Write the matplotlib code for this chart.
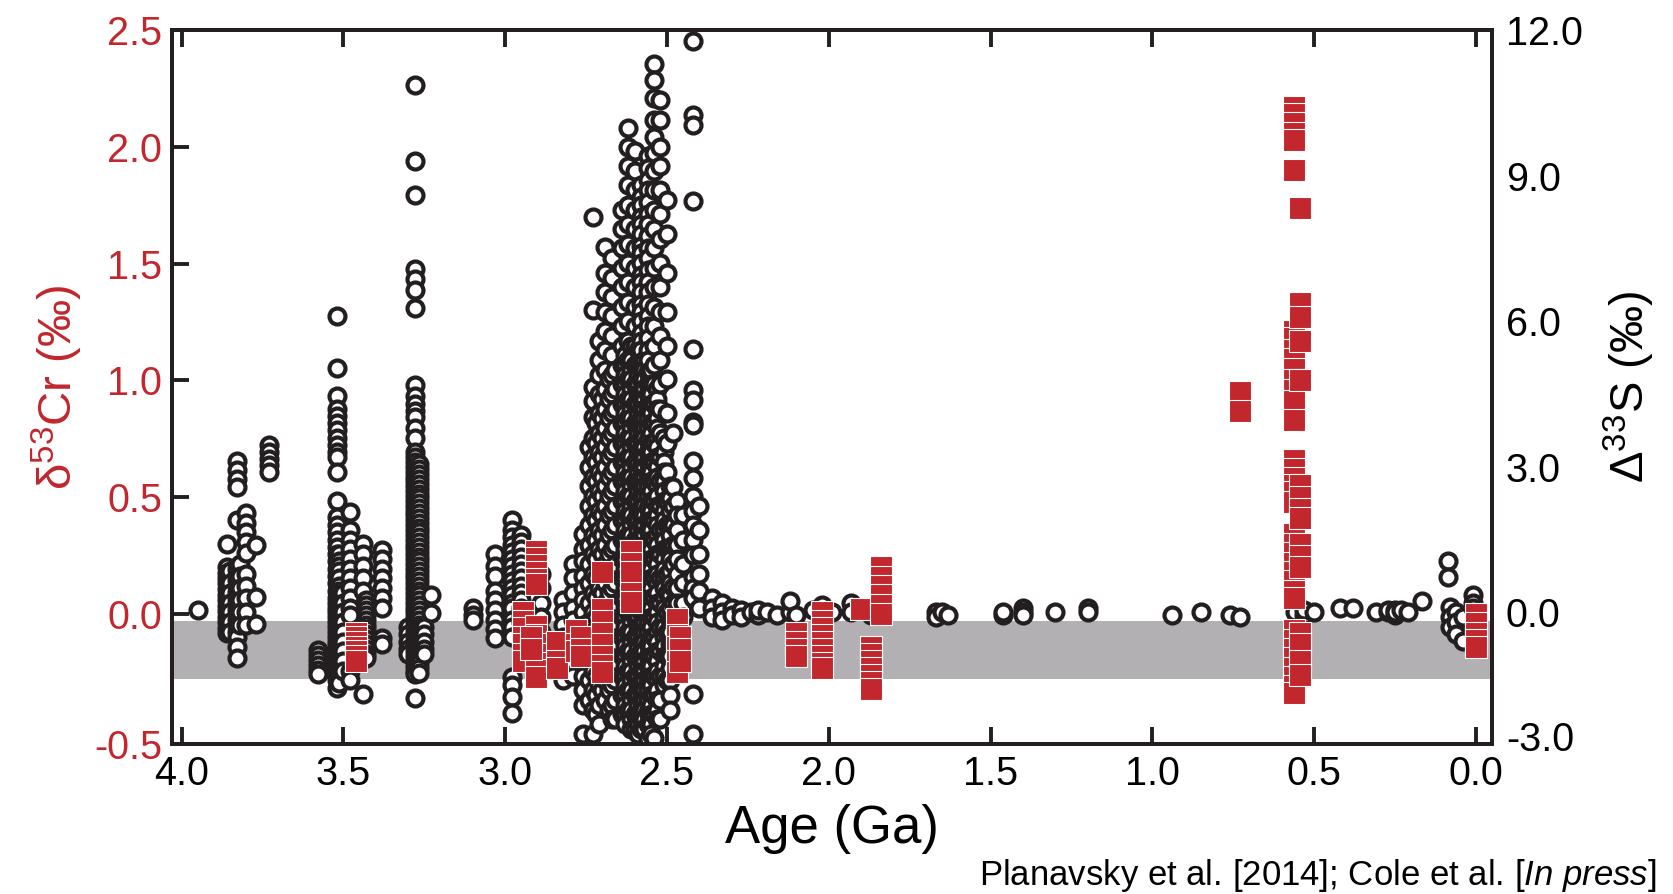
import matplotlib
matplotlib.use('Agg')
import matplotlib.pyplot as plt
from matplotlib.patches import Rectangle
from matplotlib.transforms import blended_transform_factory

plt.rcParams['font.family'] = ['Liberation Sans', 'DejaVu Sans']
plt.rcParams['mathtext.fontset'] = 'custom'
plt.rcParams['mathtext.rm'] = 'Liberation Sans'
plt.rcParams['mathtext.it'] = 'Liberation Sans:italic'
plt.rcParams['axes.unicode_minus'] = False

RED = '#c1272d'
BLACK = '#231f20'
BAND = '#b2b0b3'

# ---------------- data ----------------
# Delta33S (circles, right axis): ages (Ga) and values per sample column
eo_age = [3.95, 3.86, 3.85, 3.83, 3.82, 3.80, 3.77, 3.73]
eo_d33s = [
    [0.06],
    [1.42, 0.93, 0.82, 0.7, 0.6, 0.48, 0.36, 0.25, 0.14, 0.02, -0.1, -0.2, -0.32, -0.43],
    [0.85, 0.6, 0.4, 0.2, 0.0, -0.2, -0.4],
    [3.13, 2.93, 2.76, 2.58, 1.9, 0.9, 0.78, 0.66, 0.55, 0.42, 0.3, 0.2, 0.08, -0.04,
     -0.16, -0.28, -0.4, -0.5, -0.72, -0.93],
    [1.0, 0.75, 0.5, 0.25, 0.0, -0.25],
    [2.04, 1.85, 1.65, 1.45, 1.22, 0.8, 0.55, 0.3, 0.0, -0.25],
    [1.4, 0.31, -0.23],
    [3.44, 3.3, 3.17, 3.03, 2.9],
]

paleo_age = [3.58, 3.52, 3.515, 3.50, 3.48, 3.44, 3.43, 3.38, 3.30, 3.28, 3.265, 3.25,
             3.23, 3.10]
paleo_d33s = [
    [-0.78, -0.88, -0.98, -1.08, -1.18, -1.26],
    [6.1, 5.03, 4.45, 4.2, 4.05, 3.9, 3.75, 3.6, 3.45, 3.3, 3.2, 2.9, 2.3, 1.96, 1.8, 1.65,
     1.5, 1.35, 1.2, 1.05, 0.9, 0.75, 0.6, 0.45, 0.3, 0.2, 0.1, 0.0, -0.1, -0.2, -0.3, -0.4,
     -0.5, -0.6, -0.7, -0.8, -0.9, -1.0, -1.1, -1.2, -1.3, -1.4, -1.55],
    [1.2, 1.05, 0.95, 0.85, 0.7, 0.55, 0.45, 0.35, 0.25, 0.15, 0.05, -0.05, -0.15, -0.25,
     -0.35, -0.45, -0.55, -0.65, -0.75, -0.85, -0.95, -1.05, -1.15, -1.25, -1.35, -1.45],
    [0.4, 0.2, 0.0, -0.2, -0.4, -0.6, -0.8, -1.0, -1.2],
    [2.06, 1.69, 1.5, 1.3, 1.1, 0.9, 0.7, 0.5, 0.3, 0.1, -0.05, -1.2, -1.4],
    [1.42, 1.2, 0.95, 0.7, 0.45, -1.67],
    [0.25, 0.15, 0.05, -0.05, -0.15, -0.25, -0.35, -0.45, -0.55, -0.65, -0.75, -0.85, -0.93],
    [1.28, 1.1, 0.9, 0.7, 0.5, 0.3, 0.1, -0.52, -0.64],
    [-0.3, -0.45, -0.6, -0.75, -0.85],
    [10.86, 9.3, 8.6, 7.07, 6.87, 6.64, 6.27, 4.68, 4.45, 4.3, 4.15, 4.02, 3.81, 3.6, 3.3,
     3.2, 3.1, 3.0, 2.9, 2.8, 2.7, 2.6, 2.5, 2.4, 2.3, 2.2, 2.1, 2.0, 1.9, 1.8, 1.7, 1.6,
     1.5, 1.4, 1.3, 1.2, 1.1, 1.0, 0.9, 0.8, 0.7, 0.6, 0.5, 0.4, 0.3, 0.2, 0.1, 0.0, -0.1,
     -0.2, -0.3, -0.4, -0.5, -0.6, -0.7, -0.8, -0.9, -1.0, -1.1, -1.2, -1.26, -1.77],
    [3.05, 2.95, 2.85, 2.75, 2.65, 2.55, 2.45, 2.35, 2.25, 2.15, 2.05, 1.95, 1.85, 1.75,
     1.65, 1.55, 1.45, 1.35, 1.25, 1.15, 1.05, 0.95, 0.85, 0.75, 0.65, 0.55, 0.45, 0.35,
     0.25, 0.15, 0.05, -0.05, -0.15, -0.25, -0.35, -0.45, -0.55, -0.65, -0.75, -0.85,
     -0.95, -1.05, -1.15, -1.25],
    [-0.3, -0.45, -0.6, -0.75, -0.85],
    [0.35, -0.02],
    [0.1, -0.05, -0.15],
]

meso_age = [3.03, 2.98, 2.95, 2.89]
meso_d33s = [
    [1.2, 0.95, 0.75, 0.45, 0.25, 0.05, -0.15, -0.35, -0.52],
    [1.9, 1.69, 1.55, 1.4, 1.25, 1.1, 0.95, 0.8, 0.65, 0.5, 0.35, 0.2, 0.1, -0.16, -0.3,
     -0.5, -1.34, -1.5, -1.75, -2.08],
    [1.6, 1.45, 1.3, 1.15, 1.0, 0.85, 0.7, 0.55, 0.4, 0.25, 0.1, -0.05, -0.2, -0.35],
    [0.8, 0.5, 0.2, -0.1, -0.4, -0.7],
]

neo_age = [2.82, 2.79, 2.76, 2.74, 2.73, 2.72, 2.71, 2.70, 2.69, 2.68, 2.67, 2.66,
           2.64, 2.63, 2.62, 2.61, 2.60, 2.59, 2.58, 2.57, 2.56, 2.55, 2.54, 2.53,
           2.52, 2.51, 2.50, 2.49, 2.48, 2.47, 2.45, 2.42, 2.40]
neo_d33s = [
    [0.25, 0.0, -0.25, -0.5, -0.75, -1.0, -1.25, -1.4],
    [1.0, 0.7, 0.4, 0.1, -0.16, -0.4, -0.7, -1.0, -1.3],
    [1.62, 1.3, 1.07, 0.75, 0.5, 0.25, 0.0, -0.25, -0.5, -0.75, -1.0, -1.3, -1.6, -1.9, -2.5],
    [3.4, 3.0, 2.6, 2.2, 1.8, 1.4, 1.0, 0.6, 0.2, -0.2, -0.6, -1.0, -1.4, -1.8],
    [8.14, 6.23, 4.64, 4.35, 4.02, 3.6, 3.2, 2.8, 2.4, 2.0, 1.6, 1.2, 0.8, 0.4, 0.0, -0.4,
     -0.8, -1.2, -1.6, -2.0, -2.5],
    [3.9, 3.5, 3.1, 2.7, 2.3, 1.9, 1.5, 1.1, 0.7, 0.3, -0.1, -0.5, -0.9, -1.3, -1.7, -2.1],
    [5.6, 5.2, 4.9, 4.5, 4.1, 3.7, 3.3, 2.9, 2.5, 2.1, 1.7, 1.3, 0.9, 0.5, 0.1, -0.3, -0.7,
     -1.1, -1.5, -1.9, -2.3],
    [4.4, 4.0, 3.6, 3.2, 2.8, 2.4, 2.0, 1.6, 1.2, 0.8, 0.4, 0.0, -0.4, -0.8, -1.2, -1.6],
    [7.53, 7.0, 6.6, 6.2, 5.8, 5.4, 5.0, 4.6, 4.2, 3.8, 3.4, 3.0, 2.6, 2.2, 1.8, 1.4, 1.0,
     0.6, 0.2, -0.2, -0.6, -1.0, -1.4, -1.8],
    [4.8, 4.4, 4.0, 3.6, 3.2, 2.8, 2.4, 2.0, 1.6, 1.2, 0.8, 0.4, 0.0, -0.4, -0.8, -1.2,
     -1.6, -2.0],
    [7.3, 6.9, 6.5, 6.1, 5.7, 5.3, 4.9, 4.5, 4.1, 3.7, 3.3, 2.9, 2.5, 2.1, 1.7, 1.3, 0.9,
     0.5, 0.1, -0.3, -0.7, -1.1, -1.5, -1.9, -2.2],
    [5.0, 4.6, 4.2, 3.8, 3.4, 3.0, 2.6, 2.2, 1.8, 1.4, 1.0, 0.6, 0.2, -0.2, -0.6, -1.0,
     -1.4, -1.8, -2.2],
    [8.3, 7.9, 7.5, 7.1, 6.7, 6.3, 5.9, 5.5, 5.1, 4.7, 4.3, 3.9, 3.5, 3.1, 2.7, 2.3, 1.9,
     1.5, 1.1, 0.7, 0.3, -0.1, -0.5, -0.9, -1.3, -1.7, -2.1],
    [5.3, 5.1, 4.9, 4.7, 4.5, 4.3, 4.1, 3.9, 3.7, 3.5, 3.3, 3.1, 2.9, 2.7, 2.5, 2.3, 2.1,
     1.9, 1.7, 1.5, 1.3, 1.1, 0.9, 0.7, 0.5, 0.3, 0.1, -0.1, -0.3, -0.5, -0.7, -0.9, -1.1,
     -1.3, -1.5, -1.7, -1.9, -2.1, -2.3],
    [9.98, 9.6, 9.2, 8.8, 8.4, 8.0, 7.6, 7.2, 6.8, 6.4, 6.0, 5.6, 5.2, 4.8, 4.4, 4.0, 3.6,
     3.2, 2.8, 2.4, 2.0, 1.6, 1.2, 0.8, 0.4, 0.0, -0.4, -0.8, -1.2, -1.6, -2.0],
    [5.5, 5.2, 5.0, 4.8, 4.6, 4.4, 4.2, 4.0, 3.8, 3.6, 3.4, 3.2, 3.0, 2.8, 2.6, 2.4, 2.2,
     2.0, 1.8, 1.6, 1.4, 1.2, 1.0, 0.8, 0.6, 0.4, 0.2, 0.0, -0.2, -0.4, -0.6, -0.8, -1.0,
     -1.2, -1.4, -1.6, -1.8, -2.0, -2.2, -2.4],
    [9.5, 9.1, 8.7, 8.3, 7.9, 7.5, 7.1, 6.7, 6.3, 5.9, 5.5, 5.1, 4.7, 4.3, 3.9, 3.5, 3.1,
     2.7, 2.3, 1.9, 1.5, 1.1, 0.7, 0.3, -0.1, -0.5, -0.9, -1.3, -1.7, -2.1, -2.4],
    [5.4, 5.1, 4.9, 4.7, 4.5, 4.3, 4.1, 3.9, 3.7, 3.5, 3.3, 3.1, 2.9, 2.7, 2.5, 2.3, 2.1,
     1.9, 1.7, 1.5, 1.3, 1.1, 0.9, 0.7, 0.5, 0.3, 0.1, -0.1, -0.3, -0.5, -0.7, -0.9, -1.1,
     -1.3, -1.5, -1.7, -1.9, -2.1, -2.3, -2.5],
    [8.8, 8.55, 8.4, 8.15, 8.0, 7.8, 7.55, 7.4, 7.2, 6.95, 6.8, 6.6, 6.35, 6.2, 6.0, 5.75,
     5.6, 5.4, 5.15, 5.0, 4.8, 4.55, 4.4, 4.2, 3.95, 3.8, 3.6, 3.35, 3.2, 3.0, 2.75, 2.6,
     2.4, 2.15, 2.0, 1.8, 1.55, 1.4, 1.2, 0.95, 0.8, 0.6, 0.35, 0.2, 0.0, -0.25, -0.4, -0.6,
     -0.85, -1.0, -1.2, -1.45, -1.6, -1.8, -2.05, -2.2, -2.4],
    [5.2, 5.0, 4.8, 4.6, 4.4, 4.2, 4.0, 3.8, 3.6, 3.4, 3.2, 3.0, 2.8, 2.6, 2.4, 2.2, 2.0,
     1.8, 1.6, 1.4, 1.2, 1.0, 0.8, 0.6, 0.4, 0.2, 0.0, -0.2, -0.4, -0.6, -0.8, -1.0, -1.2,
     -1.4, -1.6, -1.8, -2.0, -2.2, -2.4],
    [9.4, 9.15, 8.9, 8.7, 8.45, 8.2, 8.0, 7.75, 7.5, 7.3, 7.05, 6.8, 6.6, 6.35, 6.1, 5.9,
     5.65, 5.4, 5.2, 4.95, 4.7, 4.5, 4.25, 4.0, 3.8, 3.55, 3.3, 3.1, 2.85, 2.6, 2.4, 2.15,
     1.9, 1.7, 1.45, 1.2, 1.0, 0.75, 0.5, 0.3, 0.05, -0.2, -0.4, -0.65, -0.9, -1.1, -1.35,
     -1.6, -1.8, -2.05, -2.3, -2.6],
    [5.0, 4.7, 4.5, 4.3, 4.1, 3.9, 3.7, 3.5, 3.3, 3.1, 2.9, 2.7, 2.5, 2.3, 2.1, 1.9, 1.7,
     1.5, 1.3, 1.1, 0.9, 0.7, 0.5, 0.3, 0.1, -0.1, -0.3, -0.5, -0.7, -0.9, -1.1, -1.3,
     -1.5, -1.7, -1.9, -2.1, -2.3, -2.5],
    [11.3, 10.97, 10.6, 10.14, 9.8, 9.46, 9.1, 8.7, 8.3, 7.9, 7.5, 7.1, 6.7, 6.3, 5.9, 5.5,
     5.1, 4.7, 4.3, 3.9, 3.5, 3.1, 2.7, 2.3, 1.9, 1.5, 1.1, 0.7, 0.3, -0.1, -0.5, -0.9,
     -1.3, -1.7, -2.1, -2.58],
    [4.6, 4.4, 4.2, 4.0, 3.8, 3.6, 3.4, 3.2, 3.0, 2.8, 2.6, 2.4, 2.2, 2.0, 1.8, 1.6, 1.4,
     1.2, 1.0, 0.8, 0.6, 0.4, 0.2, 0.0, -0.2, -0.4, -0.6, -0.8, -1.0, -1.2, -1.4, -1.6,
     -1.8, -2.0, -2.2],
    [10.56, 10.14, 9.6, 9.2, 8.7, 8.2, 7.7, 7.2, 6.7, 6.2, 5.7, 5.2, 4.7, 4.2, 3.7, 3.2,
     2.7, 2.2, 1.7, 1.2, 0.7, 0.2, -0.3, -0.8, -1.3, -1.8, -2.2],
    [3.6, 3.3, 3.1, 2.9, 2.7, 2.5, 2.3, 2.1, 1.9, 1.7, 1.5, 1.3, 1.1, 0.9, 0.7, 0.5, 0.3,
     0.1, -0.1, -0.3, -0.5, -0.7, -0.9, -1.1, -1.3, -1.5],
    [8.5, 7.8, 7.0, 6.2, 5.5, 4.8, 4.1, 3.5, 2.9, 2.3, 1.8, 1.3, 0.8, 0.4, 0.0, -0.4,
     -0.9, -1.4],
    [2.6, 2.35, 2.1, 1.85, 1.6, 1.35, 1.1, 0.85, 0.6, 0.35, 0.1, -0.15, -0.4, -0.65,
     -0.9, -1.15, -1.4, -1.7, -2.0],
    [3.7, 2.58, 2.2, 1.8, 1.4, 1.0, 0.52, 0.2, -0.2, -0.6],
    [2.3, 2.0, 1.7, 1.4, 1.1, 0.8, 0.5, 0.2, -0.1, -0.4, -0.7, -1.0],
    [2.0, 1.5, 1.0, 0.6, 0.2, -0.1],
    [11.78, 10.24, 10.05, 8.48, 5.43, 4.59, 4.37, 3.93, 3.86, 3.12, 2.78, 2.39, 2.1, 1.8,
     1.5, 1.18, 0.74, 0.5, 0.3, -1.67, -2.5],
    [2.2, 1.7, 1.2, 0.8, 0.45, 0.1],
]

young_age = [2.36, 2.33, 2.30, 2.27, 2.24, 2.22, 2.19, 2.16, 2.12, 2.10, 2.05, 2.02,
             1.99, 1.93, 1.90, 1.87, 1.67, 1.65, 1.63, 1.46, 1.40, 1.30, 1.20, 0.94,
             0.85, 0.76, 0.73, 0.56, 0.53, 0.50, 0.42, 0.38, 0.31, 0.27, 0.25, 0.23,
             0.21, 0.165, 0.085, 0.08, 0.06, 0.04, 0.01]
young_d33s = [
    [0.3, 0.1, -0.1], [0.2, 0.0, -0.15], [0.1, -0.05], [0.05, -0.1], [0.0],
    [-0.05, 0.05], [0.0], [-0.05], [0.0, 0.24], [-0.05], [0.05], [0.15, -0.05],
    [0.0], [0.2, 0.0], [0.1], [-0.05], [0.0, -0.1], [0.0], [-0.05], [-0.05, 0.0],
    [0.1, 0.0, -0.05], [0.0], [0.1, 0.0], [-0.05], [0.0], [-0.05], [-0.1], [0.0],
    [-0.05, 0.05], [0.0], [0.1], [0.1], [0.0], [0.0, 0.05], [-0.05, 0.05, 0.0], [0.05],
    [0.0], [0.24], [1.07, 0.74], [0.12, -0.1, -0.3], [0.0, -0.2, -0.45], [-0.1, -0.58],
    [0.35, 0.2, 0.1],
]

# delta53Cr (red squares, left axis)
cr_age = [3.46, 2.945, 2.905, 2.905, 2.92, 2.84, 2.78, 2.765, 2.70, 2.70, 2.61, 2.61,
          2.47, 2.46, 2.10, 2.02, 1.90, 1.87, 1.84, 0.73, 0.563, 0.543, 0.0]
cr_d53 = [
    [-0.08, -0.1, -0.12, -0.14, -0.16, -0.18, -0.2],
    [0.01, -0.03, -0.06, -0.1, -0.13, -0.17, -0.2],
    [0.27, 0.24, 0.21, 0.18, 0.15, 0.13],
    [-0.05, -0.09, -0.13, -0.17, -0.21, -0.24, -0.27],
    [-0.1, -0.15],
    [-0.12, -0.2, -0.23],
    [-0.07, -0.13, -0.16],
    [-0.1, -0.15, -0.18],
    [0.18],
    [0.02, -0.03, -0.08, -0.13, -0.18, -0.22, -0.25],
    [0.27, 0.22, 0.18],
    [0.09, 0.05],
    [-0.02, -0.09, -0.14, -0.2, -0.25],
    [-0.1, -0.15, -0.2],
    [-0.08, -0.12, -0.15, -0.18],
    [0.01, -0.03, -0.06, -0.09, -0.12, -0.15, -0.18, -0.21, -0.23],
    [0.02],
    [-0.14, -0.17, -0.2, -0.23, -0.26, -0.29, -0.32],
    [0.2, 0.16, 0.12, 0.08, 0.04, 0.0],
    [0.95, 0.87],
    [2.17, 2.14, 2.1, 2.06, 2.03, 1.9, 1.21, 1.18, 1.13, 1.09, 1.05, 1.0, 0.96, 0.91, 0.83,
     0.66, 0.62, 0.58, 0.55, 0.52, 0.48, 0.34, 0.3, 0.26, 0.22, 0.18, 0.14, 0.1, 0.07,
     -0.07, -0.11, -0.15, -0.19, -0.23, -0.27, -0.31, -0.34],
    [1.74, 1.33, 1.27, 1.17, 1.0, 0.55, 0.5, 0.45, 0.41, 0.3, 0.25, 0.2, -0.08, -0.13,
     -0.2, -0.26],
    [0.0, -0.04, -0.08, -0.11, -0.14],
]

# modern-ocean reference band for delta53Cr
band_d53 = [-0.28, -0.03]

x_ticks = [4.0, 3.5, 3.0, 2.5, 2.0, 1.5, 1.0, 0.5, 0.0]
left_ticks = [0.0, 0.5, 1.0, 1.5, 2.0, 2.5]
right_ticks = [0.0, 3.0, 6.0, 9.0, 12.0]
left_bottom_label = '-0.5'
right_bottom_label = '-3.0'


def flatten(ages, vals):
    xs, ys = [], []
    for a, vs in zip(ages, vals):
        xs += [a] * len(vs)
        ys += list(vs)
    return xs, ys


# ---------------- figure ----------------
fig = plt.figure(figsize=(16.74, 8.94), dpi=100)
ax1 = fig.add_axes([0.1027, 0.1678, 0.7886, 0.7986])
ax2 = ax1.twinx()
ax1.set_zorder(ax2.get_zorder() + 1)
ax1.patch.set_visible(False)
ax2.patch.set_visible(True)
ax2.patch.set_facecolor('white')

ax1.set_xlim(4.03, -0.05)
ax1.set_ylim(-0.557, 2.5)
ax2.set_ylim(-2.71, 12.0)

# grey band (in delta53Cr units) drawn under the circles
trans = blended_transform_factory(ax2.transAxes, ax1.transData)
ax2.add_patch(Rectangle((0, band_d53[0]), 1, band_d53[1] - band_d53[0],
                        transform=trans, facecolor=BAND, edgecolor='none', zorder=0))

for ages, vals in [(eo_age, eo_d33s), (paleo_age, paleo_d33s), (meso_age, meso_d33s),
                   (neo_age, neo_d33s), (young_age, young_d33s)]:
    xs, ys = flatten(ages, vals)
    ax2.plot(xs, ys, ls='none', marker='o', ms=11.5, mew=3.0, mfc='white', mec=BLACK,
             zorder=2)

xs, ys = flatten(cr_age, cr_d53)
ax1.plot(xs, ys, ls='none', marker='s', ms=15.5, mew=0.8, mfc=RED, mec='white', zorder=3)

# axes styling
for ax in (ax1, ax2):
    for sp in ax.spines.values():
        sp.set_linewidth(2.8)
        sp.set_color(BLACK)

FS = 28.5
ax1.set_xticks(x_ticks)
ax1.set_xticklabels([f'{t:.1f}' for t in x_ticks])
ax1.set_yticks(left_ticks)
ax1.set_yticklabels([f'{t:.1f}' for t in left_ticks])
ax1.tick_params(axis='both', direction='in', length=12, width=2.8, color=BLACK,
                labelsize=FS, top=True)
ax1.tick_params(axis='x', pad=8, labelcolor='black')
ax1.tick_params(axis='y', pad=7, labelcolor=RED)

ax2.set_yticks(right_ticks)
ax2.set_yticklabels([f'{t:.1f}' for t in right_ticks])
ax2.tick_params(axis='y', length=0, labelsize=FS, pad=10, labelcolor='black')

# bottom labels of both value axes sit on the bottom frame line, as in the original
ax1.annotate(left_bottom_label, xy=(0, 0), xycoords='axes fraction', xytext=(-7, 0),
             textcoords='offset points', ha='right', va='center_baseline',
             fontsize=FS, color=RED)
ax1.annotate(right_bottom_label, xy=(1, 0), xycoords='axes fraction', xytext=(10, 6),
             textcoords='offset points', ha='left', va='center_baseline',
             fontsize=FS, color='black')

ax1.set_xlabel('Age (Ga)', fontsize=38, labelpad=8)
ax1.set_ylabel(r'δ$^{\mathregular{53}}$Cr (‰)', fontsize=34, color=RED, labelpad=16)
ax2.set_ylabel(r'Δ$^{\mathregular{33}}$S (‰)', fontsize=34, color='black',
               rotation=90, labelpad=14, va='bottom')
ax2.yaxis.set_label_position('right')

fig.text(0.9898, 0.010, r'Planavsky et al. [2014]; Cole et al. [$\mathit{In\ press}$]',
         ha='right', va='baseline', fontsize=25)

fig.savefig('out.png', dpi=100, facecolor='white')
